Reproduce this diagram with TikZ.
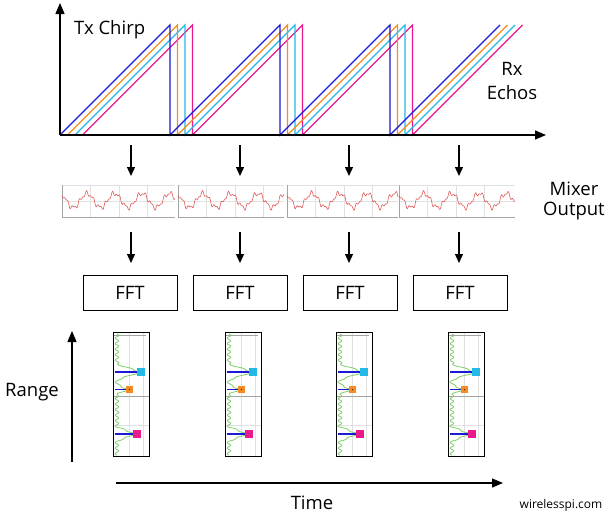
\documentclass[tikz,border=0pt]{standalone}
\usepackage{fontspec}
\setmainfont{Open Sans}
\usetikzlibrary{arrows.meta}
\definecolor{cblue}{RGB}{25,25,215}
\definecolor{corange}{RGB}{245,140,35}
\definecolor{ccyan}{RGB}{35,185,230}
\definecolor{cmag}{RGB}{235,25,140}
\definecolor{cwave}{RGB}{225,90,90}
\definecolor{cgreen}{RGB}{125,205,105}
\definecolor{gridl}{RGB}{225,225,225}
\definecolor{gridd}{RGB}{165,165,165}
\begin{document}
\begin{tikzpicture}[x=1pt,y=-1pt,
  axisarrow/.style={line width=1.3pt,-{Triangle[length=11pt,width=9pt]}},
  downarrow/.style={line width=1.3pt,-{Triangle[length=9pt,width=8pt]}},
  chirpline/.style={line width=1.3pt,line join=miter},
  txtlabel/.style={font=\fontsize{18.5}{23.5}\selectfont, inner sep=0pt, align=center},
  fftbox/.style={draw, line width=0.9pt, minimum width=94pt, minimum height=35pt, inner sep=0pt, font=\fontsize{18.5}{22}\selectfont},
  mixwave/.style={cwave, line width=0.6pt},
  gridlight/.style={gridl, line width=0.5pt},
  griddark/.style={gridd, line width=0.7pt},
  stem/.style={cblue, line width=1.6pt}
]
\useasboundingbox (0,0) rectangle (608,517);

% ---------- chirps ----------
\foreach \d/\c in {22.5/cmag,15/ccyan,7.5/corange,0/cblue}{
  \draw[chirpline,\c] ({60+\d},135) -- ({170+\d},25) -- ({170+\d},135) -- ({280+\d},25) -- ({280+\d},135) -- ({390+\d},25) -- ({390+\d},135) -- ({500+\d},25);
}
\coordinate (org) at (60,135);
\coordinate (ytip) at (60,3);
\coordinate (xtip) at (546,135);
\draw[axisarrow] (org) -- (ytip);
\draw[axisarrow] (org) -- (xtip);
\node[txtlabel, anchor=base west] (tx) at (74,34) {Tx Chirp};
\node[txtlabel] (rx) at (512,81) {Rx\\Echos};

% ---------- arrows ----------
\foreach \x [count=\i] in {131,240,349,459}{
  \coordinate (a\i s) at (\x,145);
  \coordinate (a\i e) at (\x,176);
  \draw[downarrow] (a\i s) -- (a\i e);
  \coordinate (b\i s) at (\x,232);
  \coordinate (b\i e) at (\x,263);
  \draw[downarrow] (b\i s) -- (b\i e);
}

% ---------- mixer panels ----------
\foreach \L/\R in {62/175,178/284,287/398,399/515}{
  \foreach \k in {1,2,3} \draw[gridlight] ({\L+28.5*\k},185) -- ({\L+28.5*\k},217);
  \draw[gridlight] (\L,185) -- (\R,185);
  \draw[gridlight] (\L,201) -- (\R,201);
  \draw[griddark] (\L,217) -- (\R,217);
  \draw[gridd, line width=0.9pt] (\L,185) -- (\L,217);
  \pgfmathsetmacro\W{\R-\L}
  \draw[mixwave] plot[domain=0:\W, samples=200, variable=\r, smooth] ({\L+\r},{200.5-7*cos(13.0909*(\r-25))+1.8*sin(55.3846*\r)+1.2*sin(97.297*\r+40)});
}
\node[font=\fontsize{18.5}{20}\selectfont, inner sep=0pt, align=center] (mix) at (574,201) {Mixer\\Output};

% ---------- FFT boxes ----------
\node[fftbox] (fft1) at (130,292.5) {FFT};
\node[fftbox] (fft2) at (240,292.5) {FFT};
\node[fftbox] (fft3) at (350,292.5) {FFT};
\node[fftbox] (fft4) at (460,292.5) {FFT};

% ---------- range panels ----------
\foreach \L in {113,225,336,448}{
  \draw[gridlight] ({\L+16},333) -- ({\L+16},456);
  \draw[gridlight] ({\L+30},333) -- ({\L+30},456);
  \draw[griddark] (\L,335.5) -- ({\L+33},335.5);
  \draw[griddark] (\L,396) -- ({\L+36},396);
  \draw[gridlight] (\L,425) -- ({\L+36},425);
  \draw[cgreen, line width=0.8pt] plot[domain=0:121, samples=320, variable=\t] ({\L+4+1.8*sin(65.4545*\t)+23*max(0,1-abs(\t-38)/8)+11*max(0,1-abs(\t-55.5)/5)+19*max(0,1-abs(\t-100)/7)},{334+\t});
  \draw[stem] ({\L+2},372) -- ({\L+27.5},372);
  \draw[stem] ({\L+2},389.5) -- ({\L+16.5},389.5);
  \draw[stem] ({\L+2},434) -- ({\L+24},434);
  \fill[ccyan] ({\L+23.5},368) rectangle ({\L+31.5},376);
  \fill[corange] ({\L+13},386) rectangle ({\L+20},393);
  \fill[black] ({\L+16.5},389.5) circle (0.5);
  \fill[cmag] ({\L+20},430) rectangle ({\L+28},438);
  \draw[line width=0.9pt] (\L,332) rectangle ({\L+36},456);
}

% ---------- range / time axes ----------
\coordinate (rs) at (72,462);
\coordinate (re) at (72,331);
\draw[axisarrow] (rs) -- (re);
\node[txtlabel] (range) at (32,392) {Range};
\coordinate (ts) at (116,483);
\coordinate (te) at (503,483);
\draw[axisarrow] (ts) -- (te);
\node[txtlabel] (time) at (312,503) {Time};
\node[font=\fontsize{12}{14}\selectfont, inner sep=0pt] (wsp) at (561,505) {wirelesspi.com};
\end{tikzpicture}
\end{document}
